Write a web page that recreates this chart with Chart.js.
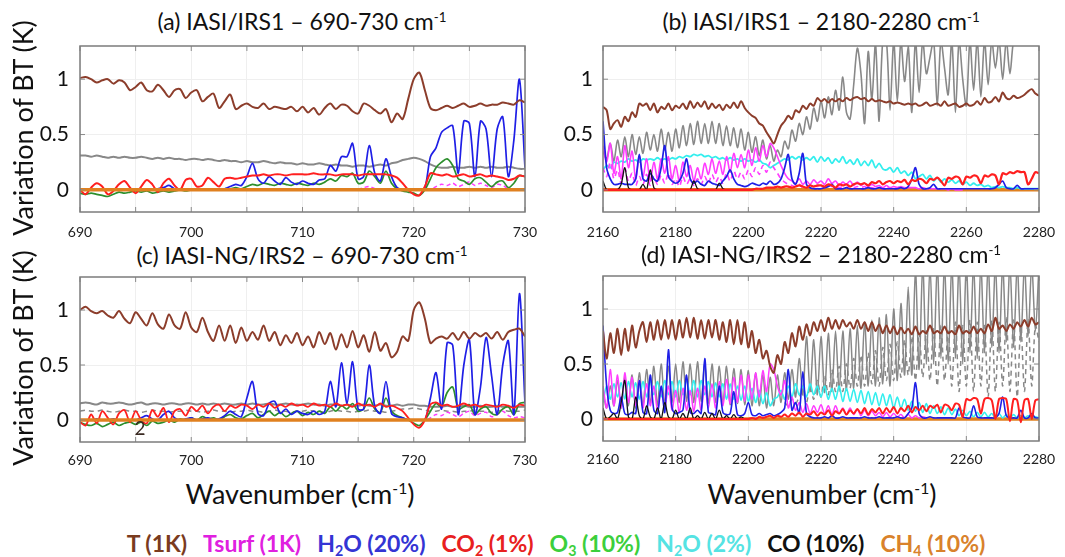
<!DOCTYPE html>
<html><head><meta charset="utf-8">
<script src="https://cdn.jsdelivr.net/npm/chart.js@4.4.0/dist/chart.umd.min.js"></script>
<style>
body{margin:0;background:#fff;}
#wrap{position:relative;width:1065px;height:557px;overflow:hidden;font-family:Lato,sans-serif;color:#111;}
canvas{position:absolute;}
.t{position:absolute;white-space:nowrap;transform:translate(-50%,-50%);line-height:1;}
.ttl{font-size:23px;}
.ax{font-size:27px;}
.rot{transform:translate(-50%,-50%) rotate(-90deg);}
sup{font-size:58%;vertical-align:0.6em;line-height:0;}
sub{font-size:62%;vertical-align:-0.3em;line-height:0;}
#legend{font-size:23px;font-weight:bold;}
#legend span{margin:0 8px;}
</style></head>
<body><div id="wrap">
<canvas id="ca" width="540" height="200" style="left:0;top:40px"></canvas>
<canvas id="cb" width="525" height="200" style="left:540px;top:40px"></canvas>
<canvas id="cc" width="540" height="200" style="left:0;top:270px"></canvas>
<canvas id="cd" width="525" height="200" style="left:540px;top:270px"></canvas>
<div class="t ttl" style="left:302px;top:21px">(a) IASI/IRS1 – 690-730 cm<sup>-1</sup></div>
<div class="t ttl" style="left:821px;top:21px">(b) IASI/IRS1 – 2180-2280 cm<sup>-1</sup></div>
<div class="t ttl" style="left:302px;top:255px">(c) IASI-NG/IRS2 – 690-730 cm<sup>-1</sup></div>
<div class="t ttl" style="left:821px;top:254px">(d) IASI-NG/IRS2 – 2180-2280 cm<sup>-1</sup></div>
<div class="t ax rot" style="left:22px;top:128px">Variation of BT (K)</div>
<div class="t ax rot" style="left:22px;top:358px">Variation of BT (K)</div>
<div class="t ax" style="left:300px;top:493px">Wavenumber (cm<sup>-1</sup>)</div>
<div class="t ax" style="left:822px;top:493px">Wavenumber (cm<sup>-1</sup>)</div>
<div class="t" style="left:140px;top:427px;font-size:19px;color:#3a2a22">2</div>
<div id="legend" class="t" style="left:556px;top:543px">
<span style="color:#7a3b1e">T (1K)</span><span style="color:#e020e0">Tsurf (1K)</span><span style="color:#3434d4">H<sub>2</sub>O (20%)</span><span style="color:#e82020">CO<sub>2</sub> (1%)</span><span style="color:#3ccf3c">O<sub>3</sub> (10%)</span><span style="color:#55e3e3">N<sub>2</sub>O (2%)</span><span style="color:#111">CO (10%)</span><span style="color:#d9822b">CH<sub>4</sub> (10%)</span>
</div>
</div>
<script>
// ---- panel (a) IASI 690-730, sampled every 0.5 cm-1 ----
var tA = [
  1.01, 1.02, 1.00, 0.97, 0.99, 1.00, 0.96, 0.99, 0.97, 0.90,
  0.93, 0.97, 0.90, 0.89, 0.95, 0.90, 0.84, 0.90, 0.91, 0.83,
  0.88, 0.90, 0.80, 0.84, 0.87, 0.74, 0.80, 0.86, 0.73, 0.76,
  0.78, 0.75, 0.74, 0.78, 0.73, 0.75, 0.74, 0.73, 0.75, 0.71,
  0.75, 0.70, 0.74, 0.68, 0.74, 0.78, 0.73, 0.77, 0.76, 0.71,
  0.69, 0.78, 0.76, 0.72, 0.69, 0.73, 0.61, 0.69, 0.64, 0.82,
  1.00, 1.06, 0.90, 0.74, 0.72, 0.74, 0.76, 0.74, 0.76, 0.78,
  0.75, 0.76, 0.78, 0.76, 0.77, 0.77, 0.79, 0.78, 0.77, 0.81,
  0.79];
var grayA = [
  0.31, 0.31, 0.30, 0.31, 0.30, 0.29, 0.30, 0.29, 0.30, 0.29,
  0.29, 0.30, 0.29, 0.28, 0.29, 0.28, 0.29, 0.28, 0.28, 0.27,
  0.28, 0.28, 0.27, 0.28, 0.27, 0.26, 0.27, 0.26, 0.26, 0.25,
  0.26, 0.25, 0.25, 0.26, 0.25, 0.24, 0.25, 0.24, 0.24, 0.23,
  0.24, 0.23, 0.23, 0.24, 0.23, 0.22, 0.23, 0.22, 0.22, 0.21,
  0.22, 0.22, 0.21, 0.22, 0.23, 0.22, 0.24, 0.25, 0.27, 0.28,
  0.29, 0.28, 0.26, 0.23, 0.21, 0.20, 0.20, 0.21, 0.20, 0.20,
  0.21, 0.20, 0.21, 0.20, 0.21, 0.20, 0.20, 0.21, 0.20, 0.19,
  0.19];
var co2A = [
  0.00, -0.04, 0.02, 0.06, 0.03, -0.04, -0.01, 0.05, 0.08, 0.02,
  -0.03, 0.03, 0.09, 0.05, -0.02, 0.06, 0.10, 0.04, 0.00, 0.09,
  0.10, 0.03, 0.04, 0.11, 0.07, 0.03, 0.10, 0.11, 0.10, 0.11,
  0.12, 0.13, 0.13, 0.14, 0.13, 0.14, 0.14, 0.13, 0.14, 0.14,
  0.14, 0.14, 0.15, 0.14, 0.14, 0.14, 0.13, 0.14, 0.14, 0.14,
  0.13, 0.14, 0.14, 0.14, 0.14, 0.14, 0.13, 0.11, 0.06, 0.00,
  -0.04, -0.05, 0.03, 0.15, 0.14, 0.13, 0.14, 0.12, 0.13, 0.14,
  0.12, 0.13, 0.14, 0.12, 0.13, 0.12, 0.11, 0.09, 0.10, 0.13,
  0.12];
var h2oA = [
  0.00, 0.00, 0.00, 0.00, 0.00, 0.00, 0.00, 0.00, 0.00, 0.00,
  0.00, 0.00, 0.01, 0.00, 0.01, 0.02, 0.04, 0.01, 0.00, 0.00,
  0.00, 0.00, 0.00, 0.00, 0.00, 0.00, 0.01, 0.03, 0.05, 0.04,
  0.12, 0.24, 0.10, 0.06, 0.12, 0.08, 0.05, 0.11, 0.07, 0.05,
  0.08, 0.06, 0.05, 0.09, 0.10, 0.22, 0.17, 0.30, 0.30, 0.42,
  0.10, 0.12, 0.40, 0.15, 0.08, 0.28, 0.12, 0.02, 0.00, 0.00,
  0.00, 0.00, 0.02, 0.30, 0.38, 0.52, 0.56, 0.58, 0.15, 0.62,
  0.60, 0.12, 0.62, 0.55, 0.12, 0.55, 0.66, 0.12, 0.45, 1.00,
  0.20];
var o3A = [
  -0.03, -0.04, -0.03, -0.04, -0.05, -0.06, -0.04, -0.02, -0.03, -0.02,
  -0.01, -0.02, -0.01, -0.03, -0.02, -0.01, -0.02, -0.01, 0.00, -0.01,
  0.00, 0.00, 0.01, 0.00, 0.01, 0.00, 0.01, 0.01, 0.02, 0.01,
  0.03, 0.05, 0.04, 0.06, 0.05, 0.04, 0.06, 0.05, 0.04, 0.06,
  0.05, 0.04, 0.06, 0.05, 0.07, 0.10, 0.08, 0.13, 0.12, 0.15,
  0.06, 0.07, 0.17, 0.12, 0.06, 0.17, 0.06, 0.01, -0.01, -0.02,
  -0.03, -0.05, 0.00, 0.10, 0.20, 0.25, 0.28, 0.22, 0.10, 0.08,
  0.05, 0.10, 0.11, 0.07, 0.03, 0.07, 0.08, 0.02, 0.06, 0.13,
  0.12];
// Tsurf in (a) starts at 715 cm-1 (flat at zero before)
var tsurfA = [
  0.00, 0.02, 0.03, 0.01, 0.00, 0.00, 0.00, 0.00, 0.00, 0.00,
  0.00, 0.00, 0.00, 0.00, 0.03, 0.05, 0.04, 0.06, 0.03, 0.05,
  0.07, 0.04, 0.06, 0.04, 0.02, 0.05, 0.04, 0.01, 0.00, 0.00,
  0.00];
var ch4A = [0, 0, 0, 0, 0];

// ---- panel (c) IASI-NG 690-730, sampled every 0.5 cm-1 ----
var tC = [
  1.00, 1.03, 0.99, 0.97, 0.99, 0.95, 0.93, 0.99, 0.92, 0.88,
  0.98, 0.92, 0.86, 0.97, 0.87, 0.83, 0.96, 0.86, 0.83, 0.98,
  0.84, 0.80, 0.93, 0.80, 0.72, 0.86, 0.72, 0.86, 0.70, 0.84,
  0.72, 0.80, 0.73, 0.86, 0.72, 0.80, 0.68, 0.77, 0.70, 0.79,
  0.68, 0.76, 0.66, 0.80, 0.69, 0.79, 0.64, 0.78, 0.66, 0.81,
  0.66, 0.77, 0.62, 0.80, 0.63, 0.70, 0.57, 0.62, 0.76, 0.72,
  1.00, 1.07, 0.92, 0.70, 0.74, 0.76, 0.74, 0.79, 0.73, 0.80,
  0.74, 0.79, 0.76, 0.79, 0.74, 0.80, 0.73, 0.80, 0.82, 0.83,
  0.76];
var grayC = [
  0.15, 0.16, 0.15, 0.14, 0.16, 0.15, 0.15, 0.16, 0.15, 0.14,
  0.15, 0.16, 0.14, 0.15, 0.15, 0.14, 0.15, 0.15, 0.14, 0.15,
  0.15, 0.14, 0.15, 0.14, 0.15, 0.14, 0.15, 0.14, 0.14, 0.15,
  0.14, 0.15, 0.14, 0.14, 0.15, 0.14, 0.14, 0.15, 0.14, 0.14,
  0.14, 0.15, 0.14, 0.14, 0.13, 0.14, 0.14, 0.13, 0.14, 0.13,
  0.13, 0.14, 0.13, 0.13, 0.14, 0.13, 0.13, 0.14, 0.13, 0.14,
  0.14, 0.13, 0.13, 0.12, 0.12, 0.12, 0.13, 0.12, 0.12, 0.13,
  0.12, 0.12, 0.13, 0.12, 0.12, 0.13, 0.12, 0.12, 0.12, 0.12,
  0.12];
var grayDashC = [
  0.08, 0.09, 0.08, 0.08, 0.09, 0.08, 0.07, 0.08, 0.09, 0.08,
  0.08, 0.07, 0.08, 0.09, 0.08, 0.08, 0.07, 0.08, 0.08, 0.09,
  0.08, 0.08, 0.07, 0.08, 0.09, 0.08, 0.08, 0.07, 0.08, 0.08,
  0.09, 0.08, 0.08, 0.07, 0.08, 0.09, 0.08, 0.08, 0.07, 0.08,
  0.08, 0.09, 0.08, 0.08, 0.07, 0.08, 0.09, 0.08, 0.08, 0.07,
  0.08, 0.08, 0.09, 0.08, 0.08, 0.07, 0.08, 0.09, 0.10, 0.10,
  0.11, 0.10, 0.09, 0.08, 0.08, 0.09, 0.08, 0.08, 0.07, 0.08,
  0.08, 0.09, 0.08, 0.08, 0.07, 0.08, 0.09, 0.08, 0.08, 0.08,
  0.09];
var co2C = [
  -0.02, -0.05, 0.05, -0.03, 0.08, 0.02, -0.04, 0.06, 0.09, -0.02,
  0.08, 0.00, -0.03, 0.09, 0.03, 0.11, -0.02, 0.08, 0.10, 0.04,
  0.12, 0.08, 0.13, 0.06, 0.12, 0.14, 0.08, 0.13, 0.11, 0.14,
  0.13, 0.10, 0.14, 0.12, 0.15, 0.11, 0.14, 0.12, 0.15, 0.13,
  0.14, 0.12, 0.15, 0.13, 0.14, 0.12, 0.15, 0.13, 0.14, 0.12,
  0.15, 0.13, 0.14, 0.12, 0.15, 0.12, 0.13, 0.11, 0.08, 0.02,
  -0.04, -0.07, 0.00, 0.14, 0.16, 0.13, 0.14, 0.12, 0.13, 0.15,
  0.13, 0.14, 0.12, 0.14, 0.13, 0.12, 0.14, 0.13, 0.11, 0.14,
  0.13];
var h2oC = [
  0.00, 0.00, 0.00, 0.01, 0.00, 0.00, 0.01, 0.00, 0.00, 0.00,
  0.00, 0.02, 0.04, 0.01, 0.00, 0.05, 0.08, 0.02, 0.00, 0.01,
  0.02, 0.00, 0.01, 0.02, 0.00, 0.01, 0.04, 0.08, 0.05, 0.03,
  0.20, 0.35, 0.06, 0.04, 0.15, 0.17, 0.06, 0.10, 0.05, 0.08,
  0.06, 0.05, 0.08, 0.05, 0.08, 0.35, 0.12, 0.52, 0.15, 0.53,
  0.10, 0.10, 0.50, 0.12, 0.06, 0.35, 0.06, 0.03, 0.02, 0.00,
  0.00, 0.00, 0.00, 0.20, 0.43, 0.10, 0.70, 0.68, 0.05, 0.50,
  0.73, 0.05, 0.30, 0.75, 0.40, 0.05, 0.50, 0.72, 0.05, 1.15,
  0.15];
var o3C = [
  -0.02, -0.04, -0.05, -0.03, -0.06, -0.04, -0.02, -0.05, -0.03, -0.02,
  -0.04, -0.02, -0.05, -0.01, -0.03, -0.02, 0.00, -0.02, 0.01, 0.00,
  0.02, 0.00, 0.03, 0.01, 0.02, 0.00, 0.03, 0.05, 0.02, 0.01,
  0.04, 0.06, 0.02, 0.05, 0.08, 0.04, 0.07, 0.03, 0.06, 0.08,
  0.04, 0.07, 0.05, 0.08, 0.06, 0.12, 0.08, 0.13, 0.10, 0.15,
  0.08, 0.10, 0.20, 0.10, 0.07, 0.20, 0.08, 0.04, 0.02, 0.00,
  -0.03, -0.05, 0.00, 0.08, 0.15, 0.12, 0.25, 0.30, 0.10, 0.12,
  0.14, 0.05, 0.10, 0.12, 0.06, 0.05, 0.10, 0.12, 0.05, 0.15,
  0.16];
// Tsurf in (c) starts at 720 cm-1
var tsurfC = [
  0.00, 0.00, 0.00, 0.02, 0.05, 0.04, 0.07, 0.05, 0.03, 0.06,
  0.08, 0.04, 0.06, 0.07, 0.03, 0.05, 0.08, 0.04, 0.02, 0.03,
  0.02];
var ch4C = [0, 0, 0, 0, 0];

// ---- panel (b) IASI 2160-2280, sampled every 1 cm-1 ----
var tB = [
  0.75, 0.72, 0.55, 0.60, 0.63, 0.57, 0.66, 0.62, 0.70, 0.66,
  0.78, 0.76, 0.78, 0.72, 0.78, 0.70, 0.75, 0.73, 0.78, 0.72,
  0.76, 0.74, 0.78, 0.73, 0.80, 0.74, 0.79, 0.75, 0.80, 0.73,
  0.78, 0.74, 0.77, 0.72, 0.77, 0.74, 0.79, 0.74, 0.80, 0.74,
  0.70, 0.67, 0.65, 0.60, 0.58, 0.52, 0.47, 0.42, 0.50, 0.58,
  0.62, 0.67, 0.64, 0.72, 0.70, 0.76, 0.73, 0.78, 0.76, 0.83,
  0.80, 0.82, 0.79, 0.82, 0.80, 0.82, 0.80, 0.83, 0.81, 0.83,
  0.84, 0.82, 0.83, 0.80, 0.82, 0.80, 0.81, 0.80, 0.79, 0.80,
  0.78, 0.79, 0.78, 0.77, 0.78, 0.77, 0.78, 0.76, 0.77, 0.79,
  0.76, 0.77, 0.78, 0.76, 0.80, 0.76, 0.77, 0.78, 0.75, 0.76,
  0.78, 0.76, 0.77, 0.80, 0.77, 0.83, 0.79, 0.80, 0.84, 0.80,
  0.88, 0.83, 0.82, 0.85, 0.83, 0.84, 0.86, 0.89, 0.91, 0.87,
  0.85];
var grayB = [
  0.35, 0.28, 0.42, 0.26, 0.45, 0.30, 0.48, 0.30, 0.50, 0.32,
  0.48, 0.33, 0.52, 0.36, 0.50, 0.35, 0.55, 0.36, 0.52, 0.35,
  0.55, 0.38, 0.58, 0.40, 0.60, 0.41, 0.62, 0.42, 0.60, 0.42,
  0.62, 0.42, 0.60, 0.40, 0.58, 0.40, 0.56, 0.38, 0.55, 0.36,
  0.52, 0.34, 0.48, 0.31, 0.45, 0.28, 0.40, 0.26, 0.36, 0.30,
  0.44, 0.37, 0.54, 0.44, 0.60, 0.50, 0.66, 0.55, 0.74, 0.62,
  0.80, 0.65, 0.84, 0.68, 0.90, 0.72, 1.02, 0.70, 0.64, 0.95,
  1.28, 1.05, 0.60, 1.25, 0.82, 1.32, 0.62, 1.35, 1.35, 0.72,
  1.35, 0.80, 1.35, 0.98, 1.30, 0.70, 1.35, 0.88, 1.35, 1.05,
  1.20, 1.35, 0.76, 1.35, 1.10, 0.86, 1.35, 0.70, 1.35, 1.00,
  0.76, 1.35, 0.90, 1.35, 0.84, 1.35, 0.95, 1.35, 1.10, 1.35,
  1.00, 1.35, 1.05, 1.35, 1.40, 1.40, 1.40, 1.40, 1.40, 1.40,
  1.40];
var n2oB = [
  0.18, 0.22, 0.20, 0.25, 0.24, 0.26, 0.25, 0.28, 0.26, 0.27,
  0.25, 0.28, 0.27, 0.28, 0.27, 0.29, 0.27, 0.28, 0.27, 0.29,
  0.28, 0.30, 0.29, 0.31, 0.30, 0.32, 0.31, 0.32, 0.30, 0.31,
  0.29, 0.30, 0.28, 0.29, 0.27, 0.29, 0.27, 0.28, 0.26, 0.28,
  0.26, 0.27, 0.25, 0.27, 0.24, 0.23, 0.20, 0.22, 0.24, 0.26,
  0.28, 0.27, 0.30, 0.28, 0.30, 0.27, 0.29, 0.27, 0.30, 0.25,
  0.30, 0.26, 0.29, 0.24, 0.28, 0.25, 0.30, 0.24, 0.27, 0.23,
  0.28, 0.22, 0.26, 0.22, 0.27, 0.20, 0.24, 0.19, 0.18, 0.20,
  0.16, 0.20, 0.15, 0.17, 0.13, 0.16, 0.10, 0.12, 0.14, 0.10,
  0.13, 0.08, 0.11, 0.07, 0.10, 0.07, 0.09, 0.06, 0.08, 0.05,
  0.07, 0.04, 0.06, 0.04, 0.05, 0.03, 0.04, 0.02, 0.03, 0.02,
  0.03, 0.02, 0.02, 0.01, 0.02, 0.01, 0.01, 0.01, 0.01, 0.01,
  0.01];
// Tsurf (b): 2160-2259
var tsurfB = [
  0.40, 0.25, 0.42, 0.15, 0.30, 0.10, 0.40, 0.20, 0.35, 0.10,
  0.30, 0.12, 0.28, 0.08, 0.25, 0.10, 0.28, 0.15, 0.30, 0.10,
  0.22, 0.08, 0.25, 0.12, 0.22, 0.08, 0.20, 0.10, 0.24, 0.14,
  0.28, 0.15, 0.26, 0.14, 0.30, 0.16, 0.33, 0.20, 0.32, 0.20,
  0.36, 0.22, 0.38, 0.26, 0.40, 0.30, 0.42, 0.38, 0.30, 0.22,
  0.15, 0.10, 0.08, 0.06, 0.10, 0.05, 0.08, 0.05, 0.09, 0.06,
  0.08, 0.05, 0.10, 0.06, 0.08, 0.04, 0.07, 0.05, 0.08, 0.04,
  0.07, 0.04, 0.06, 0.03, 0.05, 0.03, 0.04, 0.02, 0.04, 0.02,
  0.03, 0.02, 0.03, 0.02, 0.02, 0.02, 0.02, 0.01, 0.02, 0.01,
  0.01, 0.01, 0.01, 0.01, 0.01, 0.00, 0.01, 0.00, 0.00, 0.00];
// dashed magenta (b): 2160-2239
var tsurfDashB = [
  0.20, 0.12, 0.25, 0.10, 0.18, 0.06, 0.20, 0.08, 0.15, 0.04,
  0.12, 0.05, 0.14, 0.04, 0.12, 0.05, 0.13, 0.06, 0.15, 0.05,
  0.10, 0.03, 0.12, 0.05, 0.10, 0.04, 0.10, 0.05, 0.12, 0.06,
  0.14, 0.07, 0.12, 0.06, 0.15, 0.08, 0.17, 0.10, 0.16, 0.10,
  0.18, 0.12, 0.20, 0.14, 0.22, 0.16, 0.25, 0.20, 0.15, 0.10,
  0.07, 0.05, 0.04, 0.03, 0.05, 0.02, 0.04, 0.02, 0.04, 0.03,
  0.04, 0.02, 0.05, 0.03, 0.04, 0.02, 0.03, 0.02, 0.04, 0.02,
  0.03, 0.02, 0.03, 0.01, 0.02, 0.01, 0.02, 0.01, 0.02, 0.01];
var h2oB = [
  0.62, 0.20, 0.10, 0.05, 0.05, 0.06, 0.05, 0.05, 0.05, 0.10,
  0.32, 0.10, 0.08, 0.15, 0.10, 0.08, 0.20, 0.40, 0.12, 0.08,
  0.06, 0.08, 0.15, 0.28, 0.10, 0.06, 0.08, 0.05, 0.04, 0.08,
  0.06, 0.05, 0.04, 0.08, 0.12, 0.18, 0.10, 0.05, 0.04, 0.03,
  0.04, 0.06, 0.05, 0.04, 0.06, 0.05, 0.08, 0.05, 0.06, 0.10,
  0.20, 0.32, 0.10, 0.05, 0.15, 0.33, 0.05, 0.02, 0.01, 0.01,
  0.01, 0.02, 0.03, 0.05, 0.01, 0.01, 0.01, 0.02, 0.01, 0.01,
  0.01, 0.01, 0.01, 0.02, 0.01, 0.01, 0.02, 0.01, 0.01, 0.01,
  0.01, 0.01, 0.02, 0.01, 0.03, 0.10, 0.20, 0.05, 0.01, 0.01,
  0.02, 0.05, 0.01, 0.01, 0.01, 0.01, 0.01, 0.01, 0.01, 0.01,
  0.01, 0.01, 0.01, 0.01, 0.01, 0.01, 0.01, 0.01, 0.02, 0.05,
  0.08, 0.02, 0.01, 0.01, 0.04, 0.01, 0.01, 0.01, 0.01, 0.01,
  0.01];
// CO (b): 2160-2199
var coB = [
  0.08, 0.00, 0.00, 0.00, 0.00, 0.05, 0.20, 0.02, 0.00, 0.00,
  0.00, 0.05, 0.00, 0.18, 0.02, 0.00, 0.00, 0.00, 0.00, 0.00,
  0.00, 0.00, 0.00, 0.00, 0.00, 0.08, 0.01, 0.00, 0.00, 0.00,
  0.00, 0.00, 0.06, 0.01, 0.00, 0.00, 0.00, 0.00, 0.00, 0.00];
var co2B = [
  0.00, 0.00, 0.00, 0.00, 0.00, 0.00, 0.00, 0.00, 0.00, 0.00,
  0.00, 0.00, 0.00, 0.00, 0.00, 0.00, 0.00, 0.00, 0.00, 0.00,
  0.00, 0.00, 0.00, 0.00, 0.00, 0.00, 0.00, 0.00, 0.00, 0.00,
  0.00, 0.00, 0.00, 0.00, 0.00, 0.00, 0.00, 0.00, 0.00, 0.00,
  0.00, 0.00, 0.01, 0.01, 0.01, 0.02, 0.02, 0.02, 0.03, 0.02,
  0.03, 0.03, 0.02, 0.03, 0.04, 0.03, 0.02, 0.04, 0.03, 0.04,
  0.04, 0.03, 0.05, 0.04, 0.02, 0.05, 0.04, 0.05, 0.03, 0.05,
  0.06, 0.05, 0.06, 0.04, 0.07, 0.06, 0.08, 0.05, 0.07, 0.08,
  0.06, 0.08, 0.07, 0.09, 0.05, 0.09, 0.08, 0.10, 0.09, 0.06,
  0.10, 0.09, 0.11, 0.08, 0.04, 0.11, 0.10, 0.12, 0.11, 0.05,
  0.12, 0.11, 0.13, 0.12, 0.06, 0.13, 0.12, 0.14, 0.13, 0.05,
  0.15, 0.14, 0.16, 0.15, 0.17, 0.16, 0.16, 0.05, 0.10, 0.16,
  0.15];
var ch4B = [0, 0, 0, 0, 0, 0, 0];

// ---- panel (d) IASI-NG 2160-2280, sampled every 1 cm-1 ----
var tD = [
  0.80, 0.55, 0.78, 0.60, 0.82, 0.58, 0.82, 0.62, 0.85, 0.65,
  0.80, 0.88, 0.70, 0.88, 0.72, 0.90, 0.72, 0.90, 0.73, 0.90,
  0.72, 0.90, 0.74, 0.92, 0.74, 0.92, 0.73, 0.90, 0.73, 0.90,
  0.74, 0.90, 0.72, 0.88, 0.70, 0.90, 0.68, 0.90, 0.68, 0.88,
  0.65, 0.80, 0.60, 0.72, 0.55, 0.62, 0.48, 0.42, 0.58, 0.50,
  0.70, 0.60, 0.78, 0.66, 0.84, 0.72, 0.86, 0.76, 0.88, 0.80,
  0.90, 0.80, 0.92, 0.82, 0.90, 0.82, 0.90, 0.84, 0.88, 0.82,
  0.90, 0.82, 0.88, 0.80, 0.88, 0.80, 0.86, 0.78, 0.85, 0.78,
  0.84, 0.77, 0.83, 0.78, 0.82, 0.77, 0.84, 0.77, 0.80, 0.78,
  0.85, 0.78, 0.80, 0.78, 0.84, 0.78, 0.80, 0.77, 0.85, 0.78,
  0.80, 0.78, 0.84, 0.78, 0.82, 0.78, 0.86, 0.80, 0.92, 0.82,
  0.85, 0.80, 0.86, 0.82, 0.88, 0.84, 0.90, 0.84, 0.92, 0.86,
  0.88];
var grayD = [
  0.25, 0.10, 0.30, 0.12, 0.35, 0.10, 0.38, 0.12, 0.40, 0.10,
  0.42, 0.12, 0.45, 0.14, 0.48, 0.12, 0.50, 0.14, 0.48, 0.15,
  0.50, 0.15, 0.52, 0.16, 0.50, 0.15, 0.52, 0.16, 0.50, 0.14,
  0.50, 0.15, 0.48, 0.14, 0.48, 0.13, 0.46, 0.14, 0.45, 0.13,
  0.44, 0.12, 0.42, 0.12, 0.40, 0.10, 0.38, 0.12, 0.40, 0.15,
  0.42, 0.18, 0.45, 0.20, 0.55, 0.22, 0.75, 0.25, 0.72, 0.22,
  0.75, 0.24, 0.78, 0.25, 0.80, 0.25, 0.80, 0.26, 0.82, 0.28,
  0.85, 0.28, 0.88, 0.30, 0.90, 0.30, 0.92, 0.32, 0.95, 0.30,
  1.00, 0.35, 1.05, 0.40, 1.20, 0.40, 1.35, 0.45, 1.40, 0.50,
  1.40, 0.50, 1.40, 0.55, 1.40, 0.50, 1.40, 0.55, 1.40, 0.50,
  1.40, 0.60, 1.40, 0.55, 1.40, 0.60, 1.40, 0.65, 1.40, 0.60,
  1.40, 0.70, 1.40, 0.65, 1.40, 0.70, 1.40, 0.75, 1.40, 0.80,
  1.40];
// dashed gray (d): 2210-2280
var grayDashD = [
  0.15, 0.12, 0.18, 0.14, 0.20, 0.25, 0.15, 0.30, 0.18, 0.35,
  0.20, 0.40, 0.22, 0.45, 0.25, 0.48, 0.25, 0.50, 0.28, 0.55,
  0.30, 0.58, 0.30, 0.60, 0.32, 0.62, 0.30, 0.65, 0.35, 0.68,
  0.35, 0.70, 0.38, 0.72, 0.40, 0.75, 0.35, 0.78, 0.38, 0.80,
  0.35, 0.82, 0.30, 0.85, 0.35, 0.80, 0.30, 0.88, 0.25, 0.85,
  0.30, 0.90, 0.25, 0.88, 0.30, 0.85, 0.20, 0.90, 0.25, 0.88,
  0.30, 0.92, 0.25, 0.90, 0.20, 0.85, 0.25, 0.90, 0.30, 0.85,
  0.70];
// Tsurf (d): 2160-2249
var tsurfD = [
  0.30, 0.10, 0.45, 0.12, 0.40, 0.10, 0.42, 0.15, 0.38, 0.12,
  0.35, 0.10, 0.32, 0.12, 0.30, 0.08, 0.28, 0.10, 0.30, 0.08,
  0.26, 0.06, 0.28, 0.08, 0.26, 0.07, 0.28, 0.08, 0.30, 0.10,
  0.32, 0.10, 0.34, 0.12, 0.36, 0.14, 0.38, 0.15, 0.40, 0.16,
  0.40, 0.18, 0.42, 0.20, 0.44, 0.25, 0.50, 0.45, 0.30, 0.22,
  0.35, 0.10, 0.20, 0.08, 0.15, 0.06, 0.14, 0.05, 0.12, 0.06,
  0.13, 0.05, 0.12, 0.04, 0.12, 0.05, 0.10, 0.04, 0.10, 0.04,
  0.09, 0.03, 0.08, 0.03, 0.07, 0.03, 0.06, 0.02, 0.06, 0.02,
  0.05, 0.02, 0.04, 0.01, 0.04, 0.01, 0.03, 0.01, 0.02, 0.01];
var n2oD = [
  0.15, 0.30, 0.18, 0.32, 0.20, 0.33, 0.18, 0.34, 0.20, 0.33,
  0.18, 0.34, 0.20, 0.35, 0.22, 0.34, 0.20, 0.35, 0.22, 0.34,
  0.20, 0.35, 0.22, 0.36, 0.22, 0.35, 0.20, 0.35, 0.22, 0.34,
  0.20, 0.33, 0.20, 0.32, 0.18, 0.32, 0.18, 0.30, 0.17, 0.30,
  0.16, 0.28, 0.15, 0.26, 0.14, 0.24, 0.12, 0.18, 0.20, 0.26,
  0.18, 0.30, 0.20, 0.32, 0.22, 0.30, 0.20, 0.32, 0.22, 0.30,
  0.20, 0.30, 0.18, 0.28, 0.18, 0.30, 0.16, 0.28, 0.16, 0.27,
  0.15, 0.26, 0.14, 0.25, 0.13, 0.24, 0.12, 0.23, 0.12, 0.22,
  0.10, 0.20, 0.10, 0.18, 0.08, 0.16, 0.07, 0.15, 0.06, 0.14,
  0.05, 0.12, 0.05, 0.11, 0.04, 0.10, 0.04, 0.09, 0.03, 0.08,
  0.03, 0.07, 0.02, 0.06, 0.02, 0.06, 0.02, 0.05, 0.01, 0.05,
  0.01, 0.04, 0.01, 0.04, 0.01, 0.03, 0.01, 0.03, 0.01, 0.02,
  0.01];
var h2oD = [
  0.85, 0.30, 0.08, 0.05, 0.06, 0.20, 0.05, 0.04, 0.06, 0.05,
  0.35, 0.06, 0.05, 0.40, 0.08, 0.05, 0.30, 0.06, 0.63, 0.10,
  0.05, 0.06, 0.08, 0.40, 0.06, 0.05, 0.08, 0.05, 0.55, 0.06,
  0.05, 0.04, 0.30, 0.06, 0.04, 0.05, 0.25, 0.04, 0.03, 0.05,
  0.15, 0.04, 0.03, 0.05, 0.03, 0.04, 0.05, 0.03, 0.04, 0.06,
  0.10, 0.45, 0.08, 0.15, 0.05, 0.43, 0.05, 0.02, 0.01, 0.01,
  0.01, 0.02, 0.01, 0.03, 0.01, 0.01, 0.02, 0.01, 0.01, 0.01,
  0.01, 0.01, 0.02, 0.01, 0.01, 0.01, 0.02, 0.01, 0.01, 0.01,
  0.01, 0.02, 0.01, 0.01, 0.05, 0.10, 0.33, 0.05, 0.01, 0.01,
  0.02, 0.01, 0.01, 0.01, 0.01, 0.01, 0.01, 0.01, 0.10, 0.02,
  0.01, 0.01, 0.12, 0.02, 0.01, 0.01, 0.01, 0.01, 0.01, 0.05,
  0.20, 0.03, 0.01, 0.01, 0.01, 0.08, 0.01, 0.01, 0.05, 0.01,
  0.01];
// CO (d): 2160-2199
var coD = [
  0.10, 0.00, 0.02, 0.05, 0.00, 0.15, 0.35, 0.02, 0.00, 0.20,
  0.03, 0.00, 0.12, 0.02, 0.00, 0.10, 0.00, 0.15, 0.02, 0.00,
  0.08, 0.00, 0.05, 0.00, 0.10, 0.00, 0.03, 0.00, 0.06, 0.00,
  0.05, 0.00, 0.08, 0.00, 0.03, 0.00, 0.04, 0.00, 0.02, 0.00];
var co2D = [
  0.00, 0.00, 0.00, 0.00, 0.00, 0.00, 0.00, 0.00, 0.00, 0.00,
  0.00, 0.00, 0.00, 0.00, 0.00, 0.00, 0.00, 0.00, 0.00, 0.00,
  0.00, 0.00, 0.00, 0.00, 0.00, 0.00, 0.00, 0.00, 0.00, 0.00,
  0.00, 0.00, 0.00, 0.00, 0.00, 0.00, 0.00, 0.00, 0.00, 0.00,
  0.00, 0.01, 0.00, 0.02, 0.01, 0.02, 0.03, 0.01, 0.03, 0.02,
  0.04, 0.02, 0.05, 0.03, 0.06, 0.02, 0.05, 0.04, 0.07, 0.03,
  0.06, 0.04, 0.08, 0.03, 0.07, 0.05, 0.09, 0.04, 0.08, 0.05,
  0.09, 0.05, 0.10, 0.04, 0.09, 0.06, 0.10, 0.05, 0.10, 0.06,
  0.11, 0.05, 0.10, 0.07, 0.12, 0.06, 0.11, 0.08, 0.12, 0.07,
  0.12, 0.10, 0.13, 0.06, 0.13, 0.12, 0.08, 0.14, 0.13, 0.02,
  0.18, 0.17, 0.19, 0.18, 0.05, 0.18, 0.19, 0.17, 0.00, 0.18,
  0.19, 0.18, -0.02, 0.18, 0.17, -0.03, 0.17, 0.18, 0.00, 0.17,
  0.18];
var ch4D = [0, 0, 0, 0, 0, 0, 0];

var yTicks = [0, 0.5, 1];
var xTicksLow = [690, 695, 700, 705, 710, 715, 720, 725, 730];
var xTicksHigh = [2160, 2180, 2200, 2220, 2240, 2260, 2280];

var C = {
  T: '#8c3d2b', gray: '#888888', h2o: '#1f1fe6', co2: '#ff1f1f', o3: '#2d8f2d',
  tsurf: '#ff3cff', n2o: '#33eeee', co: '#111111', ch4: '#e0801f'
};

// frame + inward tick marks
var frame = {
  id: 'frame',
  afterDatasetsDraw: function (chart) {
    var ctx = chart.ctx, a = chart.chartArea, sx = chart.scales.x, sy = chart.scales.y;
    ctx.save();
    ctx.strokeStyle = '#8a8a8a';
    ctx.lineWidth = 1;
    ctx.beginPath();
    sx.ticks.forEach(function (t) {
      var p = sx.getPixelForValue(t.value);
      ctx.moveTo(p, a.bottom); ctx.lineTo(p, a.bottom - 5);
      ctx.moveTo(p, a.top); ctx.lineTo(p, a.top + 5);
    });
    sy.ticks.forEach(function (t) {
      var p = sy.getPixelForValue(t.value);
      ctx.moveTo(a.left, p); ctx.lineTo(a.left + 5, p);
      ctx.moveTo(a.right, p); ctx.lineTo(a.right - 5, p);
    });
    ctx.stroke();
    ctx.strokeStyle = '#7c7c7c';
    ctx.lineWidth = 1.5;
    ctx.strokeRect(a.left, a.top, a.right - a.left, a.bottom - a.top);
    ctx.restore();
  }
};

function line(values, x0, step, color, width, dash) {
  return {
    data: values.map(function (y, i) { return { x: x0 + i * step, y: y }; }),
    borderColor: color,
    borderWidth: width,
    borderDash: dash || [],
    pointRadius: 0,
    tension: 0.3,
    fill: false,
    clip: 0
  };
}

function makeChart(id, p) {
  var ctx = document.getElementById(id).getContext('2d');
  return new Chart(ctx, {
    type: 'line',
    data: { datasets: p.datasets },
    options: {
      responsive: false,
      animation: false,
      events: [],
      layout: { padding: { top: p.padTop, right: p.padRight, left: 0, bottom: 0 } },
      plugins: { legend: { display: false }, tooltip: { enabled: false } },
      scales: {
        x: {
          type: 'linear', min: p.xmin, max: p.xmax,
          afterBuildTicks: function (s) { s.ticks = p.xTicks.map(function (v) { return { value: v }; }); },
          afterFit: function (s) { s.height = p.xH; s.paddingLeft = 0; s.paddingRight = 0; },
          ticks: {
            font: { family: 'Lato', size: 14 }, color: '#222', padding: p.xPad, maxRotation: 0, autoSkip: false,
            callback: function (v) { return v % p.labelEvery === 0 ? String(v) : ''; }
          },
          grid: { color: '#efefef', drawTicks: false },
          border: { display: false }
        },
        y: {
          min: -0.2, max: 1.3,
          afterBuildTicks: function (s) { s.ticks = yTicks.map(function (v) { return { value: v }; }); },
          afterFit: function (s) { s.width = p.yW; s.paddingTop = 0; s.paddingBottom = 0; },
          ticks: { font: { family: 'Lato', size: 21 }, color: '#111', padding: p.yPad, callback: function (v) { return String(v); } },
          grid: { color: '#efefef', drawTicks: false },
          border: { display: false }
        }
      }
    },
    plugins: [frame]
  });
}

// first dataset is drawn on top
makeChart('ca', {
  xmin: 690, xmax: 730, xTicks: xTicksLow, labelEvery: 10, padTop: 6, padRight: 15, xH: 28, xPad: 12, yW: 80, yPad: 11,
  datasets: [
    line(tA, 690, 0.5, C.T, 2),
    line(ch4A, 690, 10, C.ch4, 3.5),
    line(co2A, 690, 0.5, C.co2, 2),
    line(h2oA, 690, 0.5, C.h2o, 1.7),
    line(o3A, 690, 0.5, C.o3, 1.7),
    line(tsurfA, 715, 0.5, C.tsurf, 1.5, [4, 3]),
    line(grayA, 690, 0.5, C.gray, 2)
  ]
});
makeChart('cb', {
  xmin: 2160, xmax: 2280, xTicks: xTicksHigh, labelEvery: 20, padTop: 6, padRight: 26, xH: 28, xPad: 12, yW: 63, yPad: 10,
  datasets: [
    line(tB, 2160, 1, C.T, 2),
    line(co2B, 2160, 1, C.co2, 2.2),
    line(coB, 2160, 1, C.co, 1.3),
    line(h2oB, 2160, 1, C.h2o, 1.7),
    line(tsurfB, 2160, 1, C.tsurf, 1.6),
    line(tsurfDashB, 2160, 1, C.tsurf, 1.6, [5, 4]),
    line(n2oB, 2160, 1, C.n2o, 1.8),
    line(grayB, 2160, 1, C.gray, 1.6),
    line(ch4B, 2160, 20, C.ch4, 3.5)
  ]
});
makeChart('cc', {
  xmin: 690, xmax: 730, xTicks: xTicksLow, labelEvery: 10, padTop: 7, padRight: 15, xH: 28, xPad: 10, yW: 80, yPad: 11,
  datasets: [
    line(tC, 690, 0.5, C.T, 2),
    line(ch4C, 690, 10, C.ch4, 3.5),
    line(co2C, 690, 0.5, C.co2, 1.8),
    line(h2oC, 690, 0.5, C.h2o, 1.7),
    line(o3C, 690, 0.5, C.o3, 1.7),
    line(tsurfC, 720, 0.5, C.tsurf, 1.5, [4, 3]),
    line(grayC, 690, 0.5, C.gray, 2),
    line(grayDashC, 690, 0.5, C.gray, 1.5, [5, 4])
  ]
});
makeChart('cd', {
  xmin: 2160, xmax: 2280, xTicks: xTicksHigh, labelEvery: 20, padTop: 6, padRight: 26, xH: 29, xPad: 10, yW: 63, yPad: 10,
  datasets: [
    line(tD, 2160, 1, C.T, 2),
    line(co2D, 2160, 1, C.co2, 2),
    line(coD, 2160, 1, C.co, 1.3),
    line(h2oD, 2160, 1, C.h2o, 1.6),
    line(tsurfD, 2160, 1, C.tsurf, 1.5),
    line(n2oD, 2160, 1, C.n2o, 1.6),
    line(grayD, 2160, 1, C.gray, 1.5),
    line(grayDashD, 2210, 1, C.gray, 1.5, [5, 4]),
    line(ch4D, 2160, 20, C.ch4, 3.5)
  ]
});
</script>
</body></html>
